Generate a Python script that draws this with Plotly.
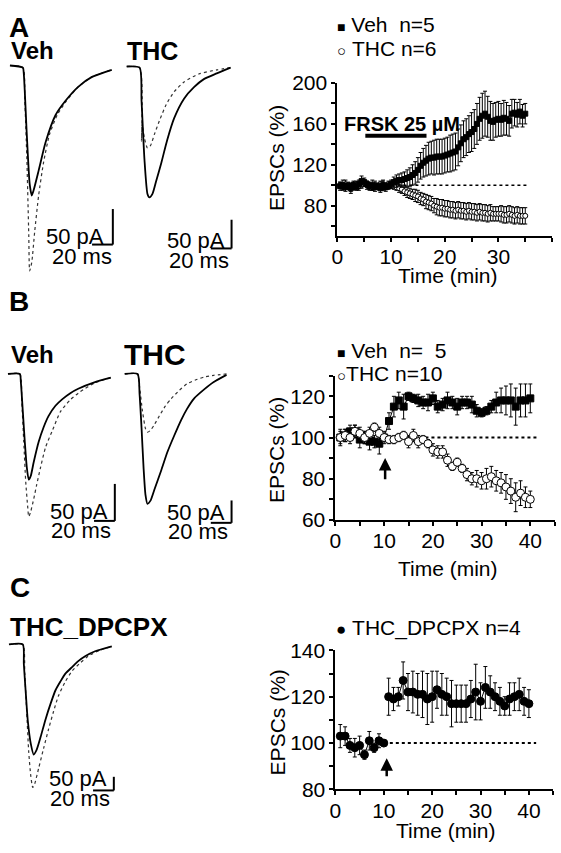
import plotly.graph_objects as go

W, H = 561, 853
FONT = "Liberation Sans, Arial, Helvetica, sans-serif"

# ---------------- Panel A time course (FRSK) ----------------
TIME_A = [0.5, 1.0, 1.5, 2.0, 2.5, 3.0, 3.5, 4.0, 4.5, 5.0, 5.5, 6.0, 6.5, 7.0, 7.5, 8.0, 8.5, 9.0, 9.5, 10.0,
          10.5, 11.0, 11.5, 12.0, 12.5, 13.0, 13.5, 14.0, 14.5, 15.0, 15.5, 16.0, 16.5, 17.0, 17.5, 18.0, 18.5, 19.0, 19.5, 20.0,
          20.5, 21.0, 21.5, 22.0, 22.5, 23.0, 23.5, 24.0, 24.5, 25.0, 25.5, 26.0, 26.5, 27.0, 27.5, 28.0, 28.5, 29.0, 29.5, 30.0,
          30.5, 31.0, 31.5, 32.0, 32.5, 33.0, 33.5, 34.0, 34.5, 35.0]
VEH_A = [99, 100, 98, 99, 97, 100, 98, 101, 104, 103, 101, 99, 100, 98, 99, 97, 100, 98, 99, 101,
         103, 104, 105, 105, 106, 107, 108, 110, 112, 115, 119, 122, 124, 126, 127, 127, 128, 128, 128, 129,
         130, 131, 132, 133, 137, 141, 145, 147, 150, 152, 155, 160, 165, 168, 170, 167, 163, 162, 164, 165,
         164, 166, 165, 163, 170, 171, 169, 172, 168, 170]
VEH_A_ERR = [4, 5, 4, 3, 5, 4, 3, 4, 5, 4, 3, 4, 5, 4, 3, 4, 5, 4, 3, 4,
             5, 6, 6, 7, 7, 8, 9, 10, 11, 12, 13, 14, 15, 16, 16, 17, 17, 17, 17, 17,
             17, 18, 18, 18, 18, 18, 18, 18, 18, 19, 19, 20, 21, 22, 22, 20, 19, 18, 17, 17,
             16, 17, 16, 15, 14, 13, 12, 12, 11, 10]
THC_A = [100, 99, 101, 100, 98, 100, 101, 99, 100, 102, 100, 99, 98, 100, 99, 101, 100, 99, 101, 100,
         99, 98, 97, 96, 94, 93, 92, 91, 90, 89, 87, 86, 84, 83, 82, 80, 79, 78, 78, 77,
         77, 76, 76, 75, 76, 75, 75, 74, 75, 74, 74, 73, 74, 73, 73, 72, 73, 72, 72, 72,
         72, 71, 71, 72, 71, 70, 71, 70, 70, 70]
THC_A_ERR = [3, 3, 4, 3, 4, 3, 3, 4, 3, 3, 4, 3, 3, 4, 3, 3, 4, 3, 3, 3,
             3, 3, 4, 4, 4, 5, 5, 5, 6, 6, 6, 6, 7, 7, 7, 7, 8, 8, 8, 8,
             8, 8, 8, 8, 8, 8, 8, 8, 8, 8, 8, 8, 8, 8, 8, 8, 8, 7, 7, 7,
             8, 8, 8, 8, 8, 8, 8, 8, 8, 8]

# ---------------- Panel B time course ----------------
TIME_B = [1, 2, 3, 4, 5, 6, 7, 8, 9, 10, 11, 12, 13, 14, 15, 16, 17, 18, 19, 20,
          21, 22, 23, 24, 25, 26, 27, 28, 29, 30, 31, 32, 33, 34, 35, 36, 37, 38, 39, 40]
VEH_B = [100, 101, 103, 103, 99, 100, 98, 98, 97, 100, 108, 115, 118, 115, 120, 119, 118, 117, 117, 119,
         115, 116, 118, 117, 115, 117, 117, 116, 113, 112, 113, 115, 117, 118, 118, 118, 115, 118, 118, 119]
VEH_B_ERR = [4, 3, 3, 3, 4, 3, 4, 3, 5, 3, 4, 5, 4, 6, 2, 2, 3, 3, 4, 3,
             3, 3, 4, 3, 4, 3, 3, 4, 3, 2, 2, 3, 5, 6, 7, 8, 9, 8, 8, 7]
THC_B = [100, 101, 100, 103, 102, 100, 102, 105, 102, 100, 99, 99, 100, 101, 98, 101, 98, 99, 97, 94,
         93, 93, 89, 86, 88, 85, 82, 80, 80, 79, 80, 81, 79, 78, 76, 74, 71, 73, 71, 70]
THC_B_ERR = [3, 3, 3, 3, 3, 3, 3, 2, 3, 2, 2, 2, 2, 2, 3, 3, 3, 2, 2, 3,
             3, 3, 3, 2, 2, 2, 3, 3, 4, 4, 5, 5, 5, 5, 6, 6, 7, 6, 5, 4]

# ---------------- Panel C time course ----------------
TIME_C_PRE = [1, 2, 3, 4, 5, 6, 7, 8, 9, 10]
DPCPX_C_PRE = [103, 103, 99, 98, 99, 95, 101, 98, 101, 100]
DPCPX_C_PRE_ERR = [5, 4, 3, 4, 4, 2, 4, 2, 3, 1]
TIME_C_POST = [11, 12, 13, 14, 15, 16, 17, 18, 19, 20, 21, 22, 23, 24, 25, 26, 27, 28, 29, 30,
               31, 32, 33, 34, 35, 36, 37, 38, 39, 40]
DPCPX_C_POST = [120, 119, 120, 127, 122, 122, 121, 121, 119, 120, 123, 121, 120, 117, 117, 117, 117, 119, 122, 118,
                124, 122, 120, 118, 116, 119, 120, 121, 118, 117]
DPCPX_C_POST_ERR = [8, 5, 4, 8, 8, 9, 9, 10, 11, 11, 8, 9, 8, 10, 8, 8, 8, 8, 12, 8,
                    9, 7, 6, 6, 4, 7, 6, 7, 6, 6]

# ---------------- EPSC sample traces (ms, pA) ----------------
A_VEH_BASE_MS = [0, 12.4, 13.3, 16.2, 19.0, 21.0, 22.9, 27.6, 34.3, 43.8, 53.3, 65.7, 79.0, 98.0]
A_VEH_BASE_PA = [0, -3, -11, -97, -167, -183, -175, -148, -108, -70, -50, -30, -16, -6]
A_VEH_DRUG_MS = [0, 12.4, 14.3, 16.2, 18.1, 19.0, 21.0, 23.8, 27.6, 32.4, 38.1, 45.7, 53.3, 65.7, 79.0, 98.0]
A_VEH_DRUG_PA = [0, -3, -50, -128, -238, -289, -277, -234, -183, -136, -97, -69, -52, -30, -16, -6]
A_THC_BASE_MS = [0, 12.4, 14.3, 17.1, 20.0, 21.9, 24.8, 28.6, 33.3, 39.0, 45.7, 55.2, 64.8, 74.3, 86.7, 100.0]
A_THC_BASE_PA = [0, -2, -60, -162, -222, -228, -222, -198, -168, -128, -90, -56, -36, -22, -12, -2]
A_THC_DRUG_MS = [0, 12.4, 14.3, 14.8, 17.1, 20.0, 22.9, 26.7, 31.4, 38.1, 45.7, 55.2, 69.5, 86.7, 100.0]
A_THC_DRUG_PA = [0, -2, -130, -100, -125, -142, -138, -118, -95, -66, -44, -27, -13, -6, -2]

B_VEH_BASE_MS = [0, 11.4, 12.4, 14.3, 16.2, 18.1, 20.0, 21.9, 24.8, 29.5, 34.3, 39.0, 45.7, 52.4, 60.0, 67.6, 83.8, 99.0]
B_VEH_BASE_PA = [0, 0, -11, -51, -92, -126, -143, -138, -119, -92, -72, -57, -43, -34, -26, -20, -11, -5]
B_VEH_DRUG_MS = [0, 11.4, 13.3, 15.2, 17.1, 19.0, 20.0, 21.9, 24.8, 27.6, 31.4, 36.2, 42.9, 50.5, 60.0, 69.5, 83.8, 99.0]
B_VEH_DRUG_PA = [0, 0, -38, -92, -146, -180, -193, -186, -169, -150, -126, -99, -76, -51, -35, -24, -12, -5]
B_THC_BASE_MS = [0, 12.4, 14.3, 16.2, 18.1, 20.0, 21.9, 24.8, 28.6, 35.2, 41.0, 47.6, 54.3, 60.0, 66.7, 76.2, 85.7, 98.0]
B_THC_BASE_PA = [0, 0, -45, -120, -208, -270, -290, -283, -258, -215, -175, -138, -103, -78, -55, -35, -18, -2]
B_THC_DRUG_MS = [0, 12.4, 14.3, 17.1, 20.0, 21.9, 24.8, 28.6, 33.3, 39.0, 44.8, 52.4, 60.0, 68.6, 76.2, 85.7, 98.0]
B_THC_DRUG_PA = [0, 0, -29, -83, -122, -130, -126, -113, -94, -72, -55, -37, -22, -13, -7, -3, 0]

C_BASE_MS = [0, 13.3, 14.3, 16.2, 18.1, 21.0, 23.8, 26.7, 30.5, 35.2, 40.0, 44.8, 49.5, 54.3, 61.0, 66.7, 73.3, 82.9, 99.0]
C_BASE_PA = [0, 0, -71, -179, -279, -364, -404, -386, -339, -275, -218, -168, -136, -107, -82, -61, -43, -25, -7]
C_DRUG_MS = [0, 13.3, 15.2, 17.1, 19.0, 21.0, 22.9, 24.8, 28.6, 33.3, 38.1, 42.9, 47.6, 54.3, 61.0, 68.6, 76.2, 87.6, 99.0]
C_DRUG_PA = [0, 0, -107, -250, -393, -482, -525, -511, -454, -382, -311, -246, -189, -136, -96, -68, -43, -21, -7]

SCALE_PA = 50
SCALE_MS = 20


def px_x(px):
    return px / W


def px_y(py):
    return 1 - py / H


fig = go.Figure()


def add_series(t, v, e, axis, symbol, fill, size, name):
    fig.add_trace(go.Scatter(
        x=t, y=v, mode="lines+markers", name=name, showlegend=False,
        xaxis="x" + axis, yaxis="y" + axis, cliponaxis=False,
        line=dict(color="black", width=1),
        marker=dict(symbol=symbol, size=size, color=fill, line=dict(color="black", width=1)),
        error_y=dict(type="data", array=e, color="black", thickness=1, width=2),
    ))


add_series(TIME_A, THC_A, THC_A_ERR, "", "circle", "white", 5, "THC")
add_series(TIME_A, VEH_A, VEH_A_ERR, "", "square", "black", 5, "Veh")
add_series(TIME_B, VEH_B, VEH_B_ERR, "2", "square", "black", 7, "Veh")
add_series(TIME_B, THC_B, THC_B_ERR, "2", "circle", "white", 8, "THC")
add_series(TIME_C_PRE, DPCPX_C_PRE, DPCPX_C_PRE_ERR, "3", "circle", "black", 8, "THC_DPCPX")
add_series(TIME_C_POST, DPCPX_C_POST, DPCPX_C_POST_ERR, "3", "circle", "black", 8, "THC_DPCPX")

# ---------- EPSC sample traces (each on its own hidden axis pair) ----------
# panel: (origin px x, origin px y, px per ms, px per pA)
TRACE_PANELS = {
    "4": (4, 55, 1.05, 0.73),
    "5": (122, 56, 1.05, 0.59),
    "6": (2, 372, 1.05, 0.76),
    "7": (120, 372, 1.05, 0.46),
    "8": (3, 650, 1.05, 0.28),
}
TRACE_SETS = [
    ("4", A_VEH_BASE_MS, A_VEH_BASE_PA, A_VEH_DRUG_MS, A_VEH_DRUG_PA),
    ("5", A_THC_BASE_MS, A_THC_BASE_PA, A_THC_DRUG_MS, A_THC_DRUG_PA),
    ("6", B_VEH_BASE_MS, B_VEH_BASE_PA, B_VEH_DRUG_MS, B_VEH_DRUG_PA),
    ("7", B_THC_BASE_MS, B_THC_BASE_PA, B_THC_DRUG_MS, B_THC_DRUG_PA),
    ("8", C_BASE_MS, C_BASE_PA, C_DRUG_MS, C_DRUG_PA),
]
for ax, bx, by, dx, dy in TRACE_SETS:
    fig.add_trace(go.Scatter(x=dx, y=dy, mode="lines", showlegend=False, xaxis="x" + ax, yaxis="y" + ax,
                             line=dict(color="#333", width=1.2, dash="dot", shape="spline", smoothing=0.6)))
    fig.add_trace(go.Scatter(x=bx, y=by, mode="lines", showlegend=False, xaxis="x" + ax, yaxis="y" + ax,
                             line=dict(color="black", width=1.8, shape="spline", smoothing=0.6)))

SCALE_CORNERS = {"4": (108, 239), "5": (228, 243), "6": (110, 523), "7": (228, 525), "8": (109, 800)}

shapes = []
layout_axes = {}
for ax, (x0, y0, ppm, ppa) in TRACE_PANELS.items():
    layout_axes["xaxis" + ax] = dict(domain=[0, 1], range=[(0 - x0) / ppm, (W - x0) / ppm],
                                     visible=False, fixedrange=True, anchor="y" + ax)
    layout_axes["yaxis" + ax] = dict(domain=[0, 1], range=[-(H - y0) / ppa, y0 / ppa],
                                     visible=False, fixedrange=True, anchor="x" + ax)
    cx, cy = SCALE_CORNERS[ax]
    cms = (cx - x0) / ppm
    cpa = -(cy - y0) / ppa
    shapes.append(dict(type="line", xref="x" + ax, yref="y" + ax, x0=cms, x1=cms, y0=cpa, y1=cpa + SCALE_PA,
                       line=dict(color="black", width=2)))
    shapes.append(dict(type="line", xref="x" + ax, yref="y" + ax, x0=cms - SCALE_MS, x1=cms, y0=cpa, y1=cpa,
                       line=dict(color="black", width=2)))

shapes.append(dict(type="line", xref="x", yref="y", x0=0, x1=35.3, y0=100, y1=100, layer="below",
                   line=dict(color="black", width=1.5, dash="dot")))
shapes.append(dict(type="line", xref="x2", yref="y2", x0=0, x1=41.5, y0=100, y1=100, layer="below",
                   line=dict(color="black", width=2, dash="dot")))
shapes.append(dict(type="line", xref="x3", yref="y3", x0=10, x1=41.5, y0=100, y1=100, layer="below",
                   line=dict(color="black", width=2, dash="dot")))
shapes.append(dict(type="line", xref="x", yref="y", x0=5.2, x1=16.6, y0=148.5, y1=148.5,
                   line=dict(color="black", width=4)))


def chart_axes(xdom, ydom, xrange, yrange, yticks, yminor, xminor, anchor_x, anchor_y):
    common = dict(showline=True, linecolor="black", linewidth=2, ticks="outside", ticklen=4, tickwidth=2,
                  tickcolor="black", showgrid=False, zeroline=False, fixedrange=True,
                  tickfont=dict(family=FONT, size=21, color="black"))
    xa = dict(domain=xdom, range=xrange, tickmode="array", tickvals=[0, 10, 20, 30, 40], anchor=anchor_y,
              ticklabelstandoff=-3,
              minor=dict(tickmode="array", tickvals=xminor, ticks="outside", ticklen=4, tickwidth=2,
                         tickcolor="black"), **common)
    ya = dict(domain=ydom, range=yrange, tickmode="array", tickvals=yticks, anchor=anchor_x,
              minor=dict(tickmode="array", tickvals=yminor, ticks="outside", ticklen=4, tickwidth=2,
                         tickcolor="black"), **common)
    return xa, ya


xa, ya = chart_axes([px_x(335), px_x(552)], [px_y(230.5), px_y(73)], [0, 40], [50, 200],
                    [80, 120, 160, 200], [60, 100, 140, 180], [5, 15, 25, 35], "x", "y")
layout_axes["xaxis"] = xa
layout_axes["yaxis"] = ya
xa, ya = chart_axes([px_x(333), px_x(554.6)], [px_y(522), px_y(373.8)], [0, 45], [60, 130],
                    [60, 80, 100, 120], [70, 90, 110, 130], [5, 15, 25, 35, 45], "x2", "y2")
layout_axes["xaxis2"] = xa
layout_axes["yaxis2"] = ya
xa, ya = chart_axes([px_x(333), px_x(553)], [px_y(799), px_y(656)], [0, 45], [80, 140],
                    [80, 100, 120, 140], [90, 110, 130], [5, 15, 25, 35, 45], "x3", "y3")
layout_axes["xaxis3"] = xa
layout_axes["yaxis3"] = ya

annotations = []


def text(px, py, s, size, bold=False, xanchor="center", angle=0):
    annotations.append(dict(x=px_x(px), y=px_y(py), xref="paper", yref="paper", showarrow=False,
                            text=("<b>%s</b>" % s) if bold else s, xanchor=xanchor, yanchor="middle",
                            textangle=angle, font=dict(family=FONT, size=size, color="black")))


text(13, 16, "A", 28, bold=True)
text(13, 298, "B", 28, bold=True)
text(14, 591, "C", 28, bold=True)
text(27, 40, "Veh", 24, bold=True)
text(148, 40, "THC", 25, bold=True)
text(27, 352, "Veh", 24, bold=True)
text(151, 352, "THC", 30, bold=True)
text(84, 632, "THC_DPCPX", 26, bold=True)

for (a, b), (c, d) in [((70, 231), (77, 251)), ((192, 235), (195, 255)), ((74, 513), (76, 533)),
                       ((192, 514), (194, 534)), ((73, 788), (75, 808))]:
    text(a, b, "50 pA", 22)
    text(c, d, "20 ms", 22)

for ty in (150, 450, 730):
    text(274, ty, "EPSCs (%)", 21, angle=-90)
text(447, 271, "Time (min)", 21)
text(447, 572, "Time (min)", 21)
text(445, 841, "Time (min)", 21)

SQ = '<span style="font-size:14px">\u25A0</span>'
OC = '<span style="font-size:15px">\u25CB</span>'
FC = '<span style="font-size:17px">\u25CF</span>'
NB = "\u00a0"
text(333, 13, SQ + NB + "Veh" + NB + NB + "n=5", 21, xanchor="left")
text(333, 37, OC + NB + "THC n=6", 21, xanchor="left")
text(333, 348, SQ + NB + "Veh" + NB + NB + "n=" + NB + NB + "5", 21, xanchor="left")
text(333, 372, OC + "THC n=10", 21, xanchor="left")
text(332, 633, FC + NB + "THC_DPCPX n=4", 21, xanchor="left")

annotations.append(dict(x=12, y=160, xref="x", yref="y", showarrow=False, text="<b>FRSK 25 \u00b5M</b>",
                        font=dict(family=FONT, size=20, color="black")))
annotations.append(dict(x=10.2, y=90, ax=10.2, ay=79, xref="x2", yref="y2", axref="x2", ayref="y2",
                        showarrow=True, arrowhead=2, arrowsize=1, arrowwidth=2.5, arrowcolor="black", text=""))
annotations.append(dict(x=10.6, y=93.5, ax=10.6, ay=85, xref="x3", yref="y3", axref="x3", ayref="y3",
                        showarrow=True, arrowhead=2, arrowsize=1, arrowwidth=2.5, arrowcolor="black", text=""))

fig.update_layout(
    width=W, height=H, autosize=False,
    margin=dict(l=0, r=0, t=0, b=0),
    paper_bgcolor="white", plot_bgcolor="rgba(0,0,0,0)",
    showlegend=False,
    font=dict(family=FONT, color="black"),
    shapes=shapes, annotations=annotations,
    **layout_axes,
)

fig.write_html("out.html", config={"displayModeBar": False},
               post_script="document.body.style.margin='0';document.body.style.overflow='hidden';")
